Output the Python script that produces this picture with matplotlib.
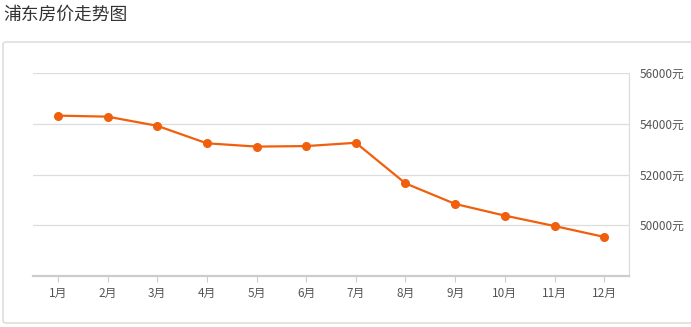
import matplotlib
matplotlib.use("Agg")
import matplotlib.pyplot as plt
from matplotlib.patches import FancyBboxPatch
from matplotlib.ticker import FuncFormatter

plt.rcParams["font.family"] = ["Noto Sans CJK SC", "DejaVu Sans"]

TITLE = "浦东房价走势图"
months = ["1月", "2月", "3月", "4月", "5月", "6月",
          "7月", "8月", "9月", "10月", "11月", "12月"]
prices = [54320, 54280, 53920, 53230, 53100, 53120,
          53250, 51650, 50840, 50380, 49970, 49540]
y_ticks = [50000, 52000, 54000, 56000]

LINE = "#f0600c"
GRID = "#dddddd"
TEXT = "#555555"

fig = plt.figure(figsize=(6.91, 3.27), dpi=100)

# panel frame (open on the right, runs off the picture)
frame = FancyBboxPatch((3 / 691, 4 / 327), 700 / 691, 281 / 327,
                       boxstyle="round,pad=0,rounding_size=0.006",
                       transform=fig.transFigure, facecolor="white",
                       edgecolor="#d8d8d8", linewidth=1.0, zorder=-5)
fig.patches.append(frame)

fig.text(3 / 691, 1 - 15 / 327, TITLE, fontsize=12.8, color="#333333",
         ha="left", va="center")

ax = fig.add_axes([33 / 691, 1 - 276 / 327, 596 / 691, 203 / 327])
ax.set_zorder(5)
ax.patch.set_alpha(0)
x = list(range(len(months)))
ax.plot(x, prices, color=LINE, linewidth=1.6, marker="o", markersize=5.5,
        zorder=3, clip_on=False)

ax.set_xlim(-0.5, len(months) - 0.5)
ax.set_ylim(48000, 56000)
ax.set_xticks(x)
ax.set_xticklabels(months)
ax.set_yticks(y_ticks)
ax.yaxis.set_major_formatter(FuncFormatter(lambda v, _: f"{int(v)}元"))
ax.yaxis.tick_right()

ax.grid(axis="y", color=GRID, linewidth=0.9)
ax.set_axisbelow(True)

for side in ("top", "left"):
    ax.spines[side].set_visible(False)
ax.spines["right"].set_color(GRID)
ax.spines["right"].set_linewidth(0.9)
ax.spines["bottom"].set_color("#cccccc")
ax.spines["bottom"].set_linewidth(1.6)

ax.tick_params(axis="x", colors="#cccccc", length=4, width=0.8,
               labelcolor=TEXT, labelsize=8.5, pad=4)
ax.tick_params(axis="y", length=0, labelcolor=TEXT, labelsize=8.5, pad=8)

fig.savefig("out.png", dpi=100)
